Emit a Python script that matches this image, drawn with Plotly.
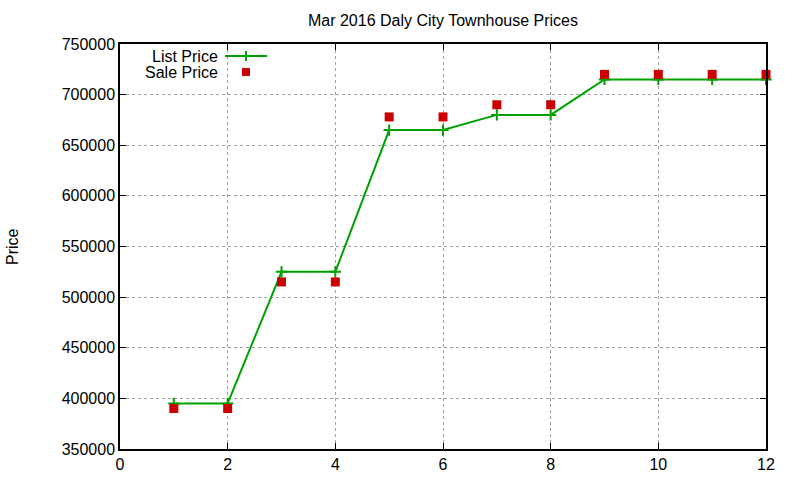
import plotly.graph_objects as go

# Data
months = [1, 2, 3, 4, 5, 6, 7, 8, 9, 10, 11, 12]
list_price = [395000, 395000, 525000, 525000, 665000, 665000,
              680000, 680000, 715000, 715000, 715000, 715000]
sale_price = [390000, 390000, 515000, 515000, 678000, 678000,
              690000, 690000, 720000, 720000, 720000, 720000]

x_ticks = [0, 2, 4, 6, 8, 10, 12]
y_ticks = [350000, 400000, 450000, 500000, 550000, 600000, 650000, 700000, 750000]

GREEN = '#00a000'
RED = '#cc0000'
FONT = 'Liberation Sans, Arial, sans-serif'

# plot area in pixels (l, r, t, b) -> used to place the hand-made legend
L, R, T, B = 120, 766, 44, 449
W, H = R - L, B - T

def px_x(p):
    return (p - L) / W

def px_y(p):
    return (B - p) / H

fig = go.Figure()

# list price: line with thin crosses
fig.add_trace(go.Scatter(
    x=months, y=list_price, name='List Price',
    mode='lines+markers',
    line=dict(color=GREEN, width=2),
    marker=dict(symbol='cross-thin', size=8, line=dict(color=GREEN, width=2)),
    cliponaxis=False,
))

# sale price: red squares
fig.add_trace(go.Scatter(
    x=months, y=sale_price, name='Sale Price',
    mode='markers',
    marker=dict(symbol='square', size=9, color=RED),
    cliponaxis=False,
))

axis_common = dict(
    showline=True, linecolor='black', linewidth=1.5, mirror='ticks',
    ticks='inside', ticklen=6, tickcolor='black', tickwidth=1,
    showgrid=True, gridcolor='#a0a0a0', griddash='3px,3px', gridwidth=1,
    zeroline=False, automargin=False,
    tickfont=dict(family=FONT, size=16, color='black'),
)

fig.update_xaxes(range=[0, 12], tickvals=x_ticks, **axis_common)
fig.update_yaxes(range=[350000, 750000], tickvals=y_ticks, tickformat='d',
                 ticksuffix='  ', **axis_common)

# gnuplot-style legend: text right-aligned, key to the right
for label, yy in [('List Price', 56), ('Sale Price', 72)]:
    fig.add_annotation(xref='paper', yref='paper', x=px_x(219), y=px_y(yy),
                       text=label, showarrow=False, xanchor='right', yanchor='middle',
                       height=16, borderpad=0,
                       font=dict(family=FONT, size=16, color='black'))
fig.add_shape(type='line', xref='paper', yref='paper',
              x0=px_x(225), x1=px_x(267), y0=px_y(56), y1=px_y(56),
              line=dict(color=GREEN, width=2))
fig.add_shape(type='line', xref='paper', yref='paper',
              x0=px_x(246), x1=px_x(246), y0=px_y(61), y1=px_y(51),
              line=dict(color=GREEN, width=2))
fig.add_shape(type='rect', xref='paper', yref='paper',
              x0=px_x(242), x1=px_x(250), y0=px_y(76), y1=px_y(68),
              line=dict(width=0), fillcolor=RED)

# y axis title placed like gnuplot's
fig.add_annotation(xref='paper', yref='paper', x=px_x(12), y=px_y(247),
                   text='Price', textangle=-90, showarrow=False,
                   xanchor='center', yanchor='middle',
                   font=dict(family=FONT, size=16, color='black'))

fig.update_layout(
    width=800, height=480,
    paper_bgcolor='white', plot_bgcolor='white',
    margin=dict(l=L, r=800 - R, t=T, b=480 - B),
    showlegend=False,
    title=dict(text='Mar 2016 Daly City Townhouse Prices', xref='paper', x=0.5,
               xanchor='center', y=1 - 20 / 480, yanchor='middle',
               font=dict(family=FONT, size=16, color='black')),
)

fig.write_html("out.html", config={'displayModeBar': False},
               post_script="document.body.style.margin='0';")
